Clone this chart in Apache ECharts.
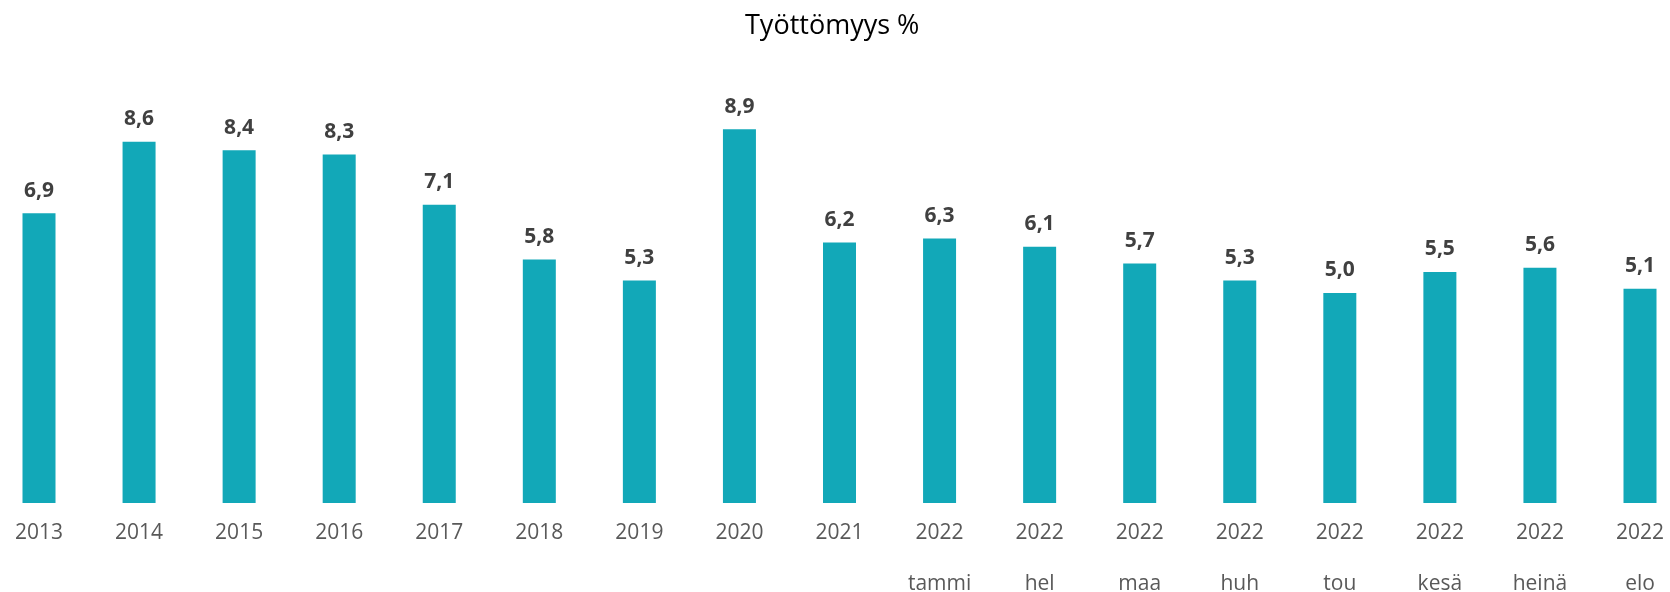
<!DOCTYPE html>
<html>
<head>
<meta charset="utf-8">
<script src="https://cdn.jsdelivr.net/npm/echarts@6/dist/echarts.min.js"></script>
<style>html,body{margin:0;padding:0;background:#fff}#c{width:1670px;height:592px}</style>
</head>
<body>
<div id="c"></div>
<script>
const years = ['2013','2014','2015','2016','2017','2018','2019','2020','2021','2022','2022','2022','2022','2022','2022','2022','2022'];
const months = ['','','','','','','','','','tammi','hel','maa','huh','tou','kesä','heinä','elo'];
const values = [6.9, 8.6, 8.4, 8.3, 7.1, 5.8, 5.3, 8.9, 6.2, 6.3, 6.1, 5.7, 5.3, 5.0, 5.5, 5.6, 5.1];
const titleText = 'Työttömyys %';

const categories = years.map((y, i) => y + '\n' + (months[i] || ' '));

const chart = echarts.init(document.getElementById('c'), null, {renderer: 'canvas'});
chart.setOption({
  animation: false,
  backgroundColor: '#ffffff',
  title: {
    text: titleText,
    left: 740,
    top: 8,
    textStyle: {fontFamily: 'Open Sans', fontSize: 27, fontWeight: 'normal', color: '#000000'}
  },
  grid: {left: 39, right: 30, top: 83, bottom: 89, containLabel: false, outerBoundsMode: 'none'},
  xAxis: {
    type: 'category',
    data: categories,
    boundaryGap: false,
    axisLine: {show: false},
    axisTick: {show: false},
    axisLabel: {
      interval: 0,
      margin: 5,
      fontFamily: 'Open Sans',
      fontSize: 21,
      lineHeight: 51,
      color: '#595959'
    }
  },
  yAxis: {
    type: 'value',
    min: 0,
    max: 10,
    show: false,
    splitLine: {show: false}
  },
  series: [{
    type: 'bar',
    data: values,
    barWidth: 33,
    itemStyle: {color: '#12a8b8'},
    label: {
      show: true,
      position: 'top',
      distance: 12,
      fontFamily: 'Open Sans',
      fontWeight: 'bold',
      fontSize: 21,
      color: '#404040',
      formatter: p => p.value.toFixed(1).replace('.', ',')
    }
  }]
});
</script>
</body>
</html>
